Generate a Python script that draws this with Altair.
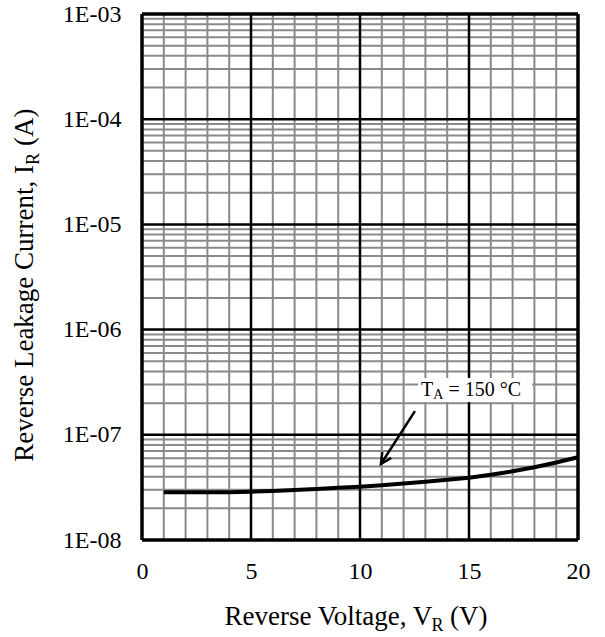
import altair as alt
import pandas as pd

# ---- data ----
vr = [1, 2, 3, 4, 5, 6, 7, 8, 9, 10, 11, 12, 13, 14, 15, 16, 17, 18, 19, 20]
ir = [2.84e-8, 2.84e-8, 2.84e-8, 2.85e-8, 2.88e-8, 2.93e-8, 2.99e-8, 3.06e-8, 3.13e-8, 3.21e-8,
      3.31e-8, 3.44e-8, 3.58e-8, 3.74e-8, 3.91e-8, 4.18e-8, 4.50e-8, 4.92e-8, 5.45e-8, 6.11e-8]

x_ticks = [0, 5, 10, 15, 20]
y_ticks = [1e-8, 1e-7, 1e-6, 1e-5, 1e-4, 1e-3]
x_major_inner = [5, 10, 15]
y_major_inner = [1e-7, 1e-6, 1e-5, 1e-4]
x_frame = [0, 20]
y_frame = [1e-8, 1e-3]
x_minor = [v for v in range(1, 20) if v % 5 != 0]
y_minor = [k * 10.0 ** d for d in range(-8, -3) for k in range(2, 10)]

arrow_x = [12.52, 10.96]
arrow_y = [1.68e-7, 5.28e-8]
label_x = 15.28
label_y = 2.67e-7

W, H = 436, 526
FONT = "Liberation Serif"

xs = alt.Scale(domain=[0, 20], nice=False, zero=False)
ys = alt.Scale(type="log", domain=[1e-8, 1e-3], nice=False)

x_axis = alt.Axis(values=x_ticks, title=None, labelPadding=19, labelFlush=False)
y_axis = alt.Axis(values=y_ticks, title=None, labelPadding=21, labelFlush=False,
                  labelExpr="'1E-0' + round(-log(datum.value)/LN10)")


def X(f="x"):
    return alt.X(f + ":Q", scale=xs, axis=x_axis)


def Y(f="y"):
    return alt.Y(f + ":Q", scale=ys, axis=y_axis)


curve = pd.DataFrame({"x": vr, "y": ir})


def vrules(vals, color, width):
    return alt.Chart(pd.DataFrame({"x": vals})).mark_rule(color=color, strokeWidth=width).encode(x=X())


def hrules(vals, color, width):
    return alt.Chart(pd.DataFrame({"y": vals})).mark_rule(color=color, strokeWidth=width).encode(y=Y())


grid_color = "#8a8a8a"
layers = [
    vrules(x_minor, grid_color, 2),
    hrules(y_minor, grid_color, 2),
    vrules(x_major_inner, "black", 2.5),
    hrules(y_major_inner, "black", 2.5),
    vrules(x_frame, "black", 3.5),
    hrules(y_frame, "black", 3.5),
]

line = alt.Chart(curve).mark_line(color="black", strokeWidth=4).encode(x=X(), y=Y())
layers.append(line)

arrow_df = pd.DataFrame({"x": arrow_x, "y": arrow_y})
arrow = alt.Chart(arrow_df).mark_line(color="black", strokeWidth=2.5).encode(x=X(), y=Y())
head = alt.Chart(arrow_df.iloc[[1]]).mark_point(
    shape="M-0.5,-1L0,0L0.5,-1", filled=False, stroke="black", strokeWidth=2.5, size=460, angle=33,
    opacity=1).encode(x=X(), y=Y())
layers += [arrow, head]

lab_df = pd.DataFrame({"x": [label_x], "y": [label_y]})
box = alt.Chart(lab_df).mark_point(
    shape="M-1,-0.21L1,-0.21L1,0.21L-1,0.21Z", filled=True, fill="white", strokeWidth=0,
    size=13000, opacity=1).encode(x=X(), y=Y())
layers.append(box)


def lab_text(txt, size, dx, dy):
    return alt.Chart(lab_df).mark_text(text=txt, font=FONT, fontSize=size, color="black", align="left",
                                       baseline="middle", dx=dx, dy=dy).encode(x=X(), y=Y())


layers += [lab_text("T", 20, -54, 0), lab_text("A", 14, -41.8, 5),
           lab_text("= 150 °C", 20, -26.7, 0)]


# axis titles with subscripts
def xt(txt, size, dx, dy):
    return alt.Chart(pd.DataFrame({"x": [10]})).mark_text(
        text=txt, font=FONT, fontSize=size, color="black", align="left", baseline="alphabetic",
        dx=dx, dy=dy).encode(x=X(), y=alt.value(611))


def yt(txt, size, dx, dy):
    return alt.Chart(pd.DataFrame({"x": [0]})).mark_text(
        text=txt, font=FONT, fontSize=size, color="black", align="left", baseline="alphabetic",
        angle=270, dx=dx, dy=dy).encode(x=alt.value(-109), y=alt.value(268))


layers += [xt("Reverse Voltage, V", 27, -135.5, 0), xt("R", 18, 71.5, 6), xt("(V)", 27, 90.0, 0)]
layers += [yt("Reverse Leakage Current, I", 27, -179.8, 0), yt("R", 18, 117.1, 6), yt("(A)", 27, 135.9, 0)]

chart = alt.layer(*layers).properties(
    width=W, height=H,
    autosize=alt.AutoSizeParams(type="none"),
    padding={"left": 142, "top": 14, "right": 27, "bottom": 97},
).configure_view(stroke=None).configure(background="white").configure_axis(
    grid=False, domain=False, ticks=False, tickSize=0, labelFont=FONT, labelFontSize=24,
    labelColor="black", title=None)

chart.save("out.html", embed_options={"renderer": "svg", "actions": False})
